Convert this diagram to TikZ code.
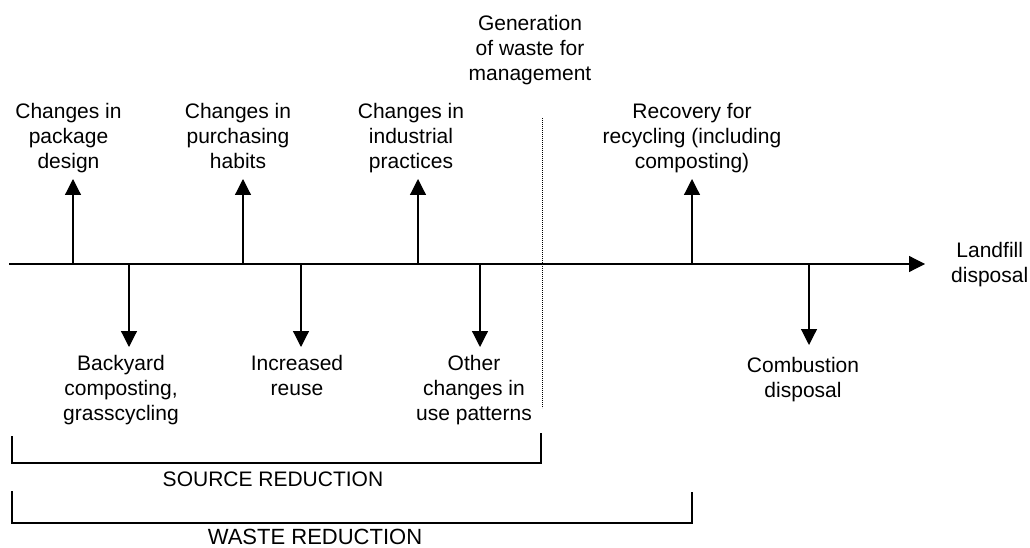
\documentclass[tikz,border=0pt]{standalone}
\usepackage{fontspec}
\setmainfont{Liberation Sans}
\usetikzlibrary{arrows.meta}
\tikzset{
  lbl/.style={font=\fontsize{21}{25}\selectfont, align=center, inner sep=0pt},
  biglbl/.style={font=\fontsize{21}{25}\selectfont, inner sep=0pt},
  hugelbl/.style={font=\fontsize{22}{26}\selectfont, inner sep=0pt},
  flow/.style={line width=1.2pt, -{Triangle[length=16pt,width=16pt]}},
  divider/.style={line width=0.8pt, dash pattern=on 0.8pt off 1.2pt},
  bracketline/.style={line width=1.2pt}
}
\begin{document}
\begin{tikzpicture}[x=1pt,y=-1pt]
\useasboundingbox (0,0) rectangle (1030,548);

% labels above
\node[lbl, anchor=north] (pkg) at (68.5,103) {Changes in\\package\\design};
\node[lbl, anchor=north] (pur) at (238,103) {Changes in\\purchasing\\habits};
\node[lbl, anchor=north] (ind) at (411,103) {Changes in\\industrial\\practices};
\node[lbl, anchor=north] (gen) at (530,15) {Generation\\of waste for\\management};
\node[lbl, anchor=north] (rec) at (692,103) {Recovery for\\recycling (including\\composting)};
\node[lbl, anchor=west] (land) at (951,265) {Landfill\\disposal};

% labels below
\node[lbl, anchor=north] (back) at (121,355) {Backyard\\composting,\\grasscycling};
\node[lbl, anchor=north] (reuse) at (297,355) {Increased\\reuse};
\node[lbl, anchor=north] (other) at (474,355) {Other\\changes in\\use patterns};
\node[lbl, anchor=north] (comb) at (803,357) {Combustion\\disposal};

% main line
\coordinate (start) at (9,264);
\coordinate (end) at (925,264);
\draw[flow] (start) -- (end);

% upward branches
\coordinate (u1) at (73,264);  \coordinate (u1t) at (73,179);
\coordinate (u2) at (243,264); \coordinate (u2t) at (243,179);
\coordinate (u3) at (418,264); \coordinate (u3t) at (418,179);
\coordinate (u4) at (692,264); \coordinate (u4t) at (692,179);
\draw[flow] (u1) -- (u1t);
\draw[flow] (u2) -- (u2t);
\draw[flow] (u3) -- (u3t);
\draw[flow] (u4) -- (u4t);

% downward branches
\coordinate (d1) at (129,264); \coordinate (d1t) at (129,347);
\coordinate (d2) at (301,264); \coordinate (d2t) at (301,347);
\coordinate (d3) at (480,264); \coordinate (d3t) at (480,347);
\coordinate (d4) at (809,264); \coordinate (d4t) at (809,345);
\draw[flow] (d1) -- (d1t);
\draw[flow] (d2) -- (d2t);
\draw[flow] (d3) -- (d3t);
\draw[flow] (d4) -- (d4t);

% dotted divider
\coordinate (dtop) at (542,118);
\coordinate (dbot) at (542,408);
\draw[divider] (dtop) -- (dbot);

% source reduction bracket
\coordinate (s1) at (12,436);
\coordinate (s2) at (12,463);
\coordinate (s3) at (541,463);
\coordinate (s4) at (541,433);
\draw[bracketline] (s1) -- (s2) -- (s3) -- (s4);
\node[biglbl, anchor=base] (src) at (273,486) {SOURCE REDUCTION};

% waste reduction bracket
\coordinate (w1) at (12,491);
\coordinate (w2) at (12,523);
\coordinate (w3) at (692,523);
\coordinate (w4) at (692,492);
\draw[bracketline] (w1) -- (w2) -- (w3) -- (w4);
\node[hugelbl, anchor=base] (wst) at (315,544.5) {WASTE REDUCTION};
\end{tikzpicture}
\end{document}
